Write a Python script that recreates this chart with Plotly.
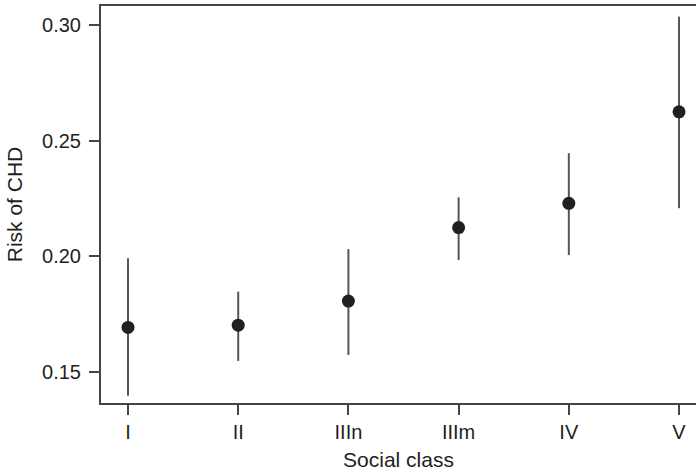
import plotly.graph_objects as go

categories = ["I", "II", "IIIn", "IIIm", "IV", "V"]
risk = [0.1693, 0.1703, 0.1807, 0.2125, 0.2230, 0.2626]
upper = [0.1992, 0.1848, 0.2032, 0.2256, 0.2447, 0.3038]
lower = [0.1397, 0.1548, 0.1574, 0.1985, 0.2006, 0.2209]

xpos = list(range(len(categories)))
err_plus = [u - r for u, r in zip(upper, risk)]
err_minus = [r - l for r, l in zip(risk, lower)]

fig = go.Figure()
fig.add_trace(go.Scatter(
    x=xpos, y=risk, mode="markers",
    marker=dict(size=13, color="#231f20"),
    error_y=dict(type="data", symmetric=False, array=err_plus, arrayminus=err_minus,
                 color="#555555", thickness=2, width=0),
    showlegend=False,
))

tick_font = dict(family="Liberation Sans, Arial, sans-serif", size=20, color="#231f20")
title_font = dict(family="Liberation Sans, Arial, sans-serif", size=21, color="#231f20")
fig.update_layout(
    width=696, height=475,
    margin=dict(l=101, r=0, t=6, b=72),
    paper_bgcolor="white", plot_bgcolor="white",
    font=tick_font,
    xaxis=dict(
        range=[-0.245, 5.154], tickmode="array", tickvals=xpos, ticktext=categories,
        showline=True, linecolor="#444444", linewidth=2, mirror=True,
        ticks="outside", ticklen=10, tickwidth=1.5, tickcolor="#444444",
        showgrid=False, zeroline=False, tickfont=tick_font, automargin=False,
        title=dict(text="Social class", standoff=10, font=title_font),
    ),
    yaxis=dict(
        range=[0.1366, 0.3084], tickvals=[0.15, 0.20, 0.25, 0.30], tickformat=".2f",
        showline=True, linecolor="#444444", linewidth=2,
        ticks="outside", ticklen=10, tickwidth=1.5, tickcolor="#444444",
        showgrid=False, zeroline=False, tickfont=tick_font, automargin=False,
        ticklabelstandoff=4,
        title=dict(text="Risk of CHD", standoff=14, font=title_font),
    ),
)

fig.write_html("out.html", config={"displayModeBar": False},
               post_script="document.body.style.margin='0';")
